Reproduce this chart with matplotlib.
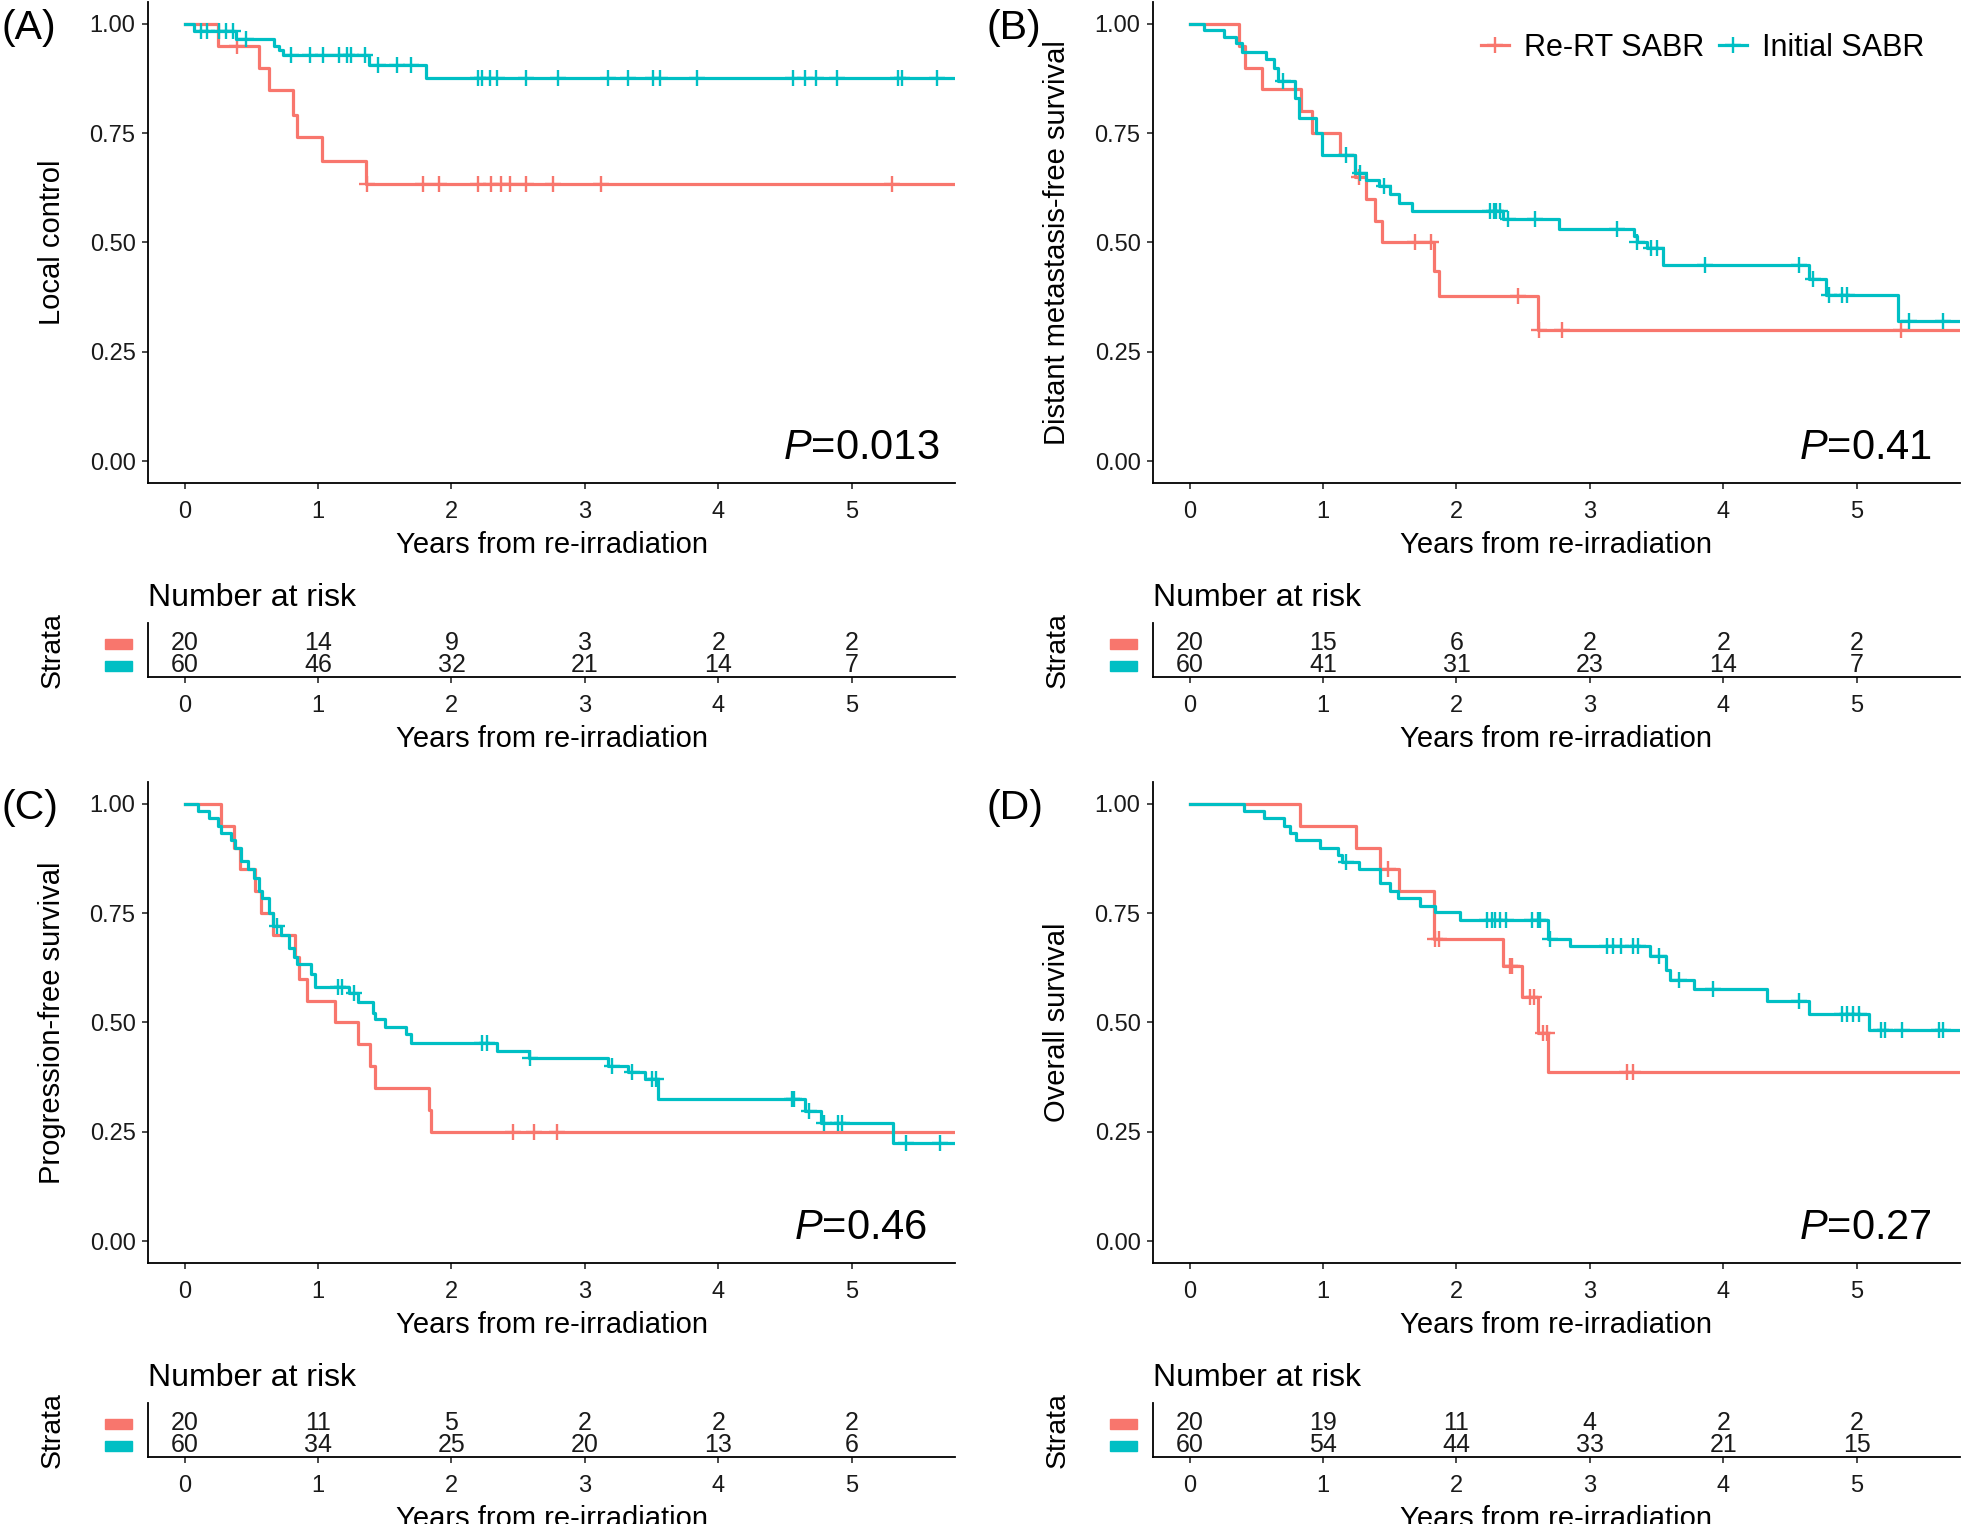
import numpy as np
import matplotlib
matplotlib.use("Agg")
import matplotlib.pyplot as plt
from matplotlib.lines import Line2D
from matplotlib.patches import Rectangle

plt.rcParams["font.family"] = ["Liberation Sans", "DejaVu Sans"]
plt.rcParams["mathtext.fontset"] = "custom"
plt.rcParams["mathtext.it"] = "Liberation Sans:italic"
plt.rcParams["mathtext.rm"] = "Liberation Sans"

RED = "#F8766D"
TEAL = "#00BFC4"
GROUPS = ["Re-RT SABR", "Initial SABR"]
YEARS = [0, 1, 2, 3, 4, 5]
XLABEL = "Years from re-irradiation"

# ── (A) local control ─────────────────────────────────────────────
A_re_t = [0.25, 0.555, 0.63, 0.81, 0.84, 1.03, 1.36]
A_re_s = [0.95, 0.90, 0.848, 0.792, 0.741, 0.687, 0.634]
A_re_c = [0.39, 1.37, 1.79, 1.91, 2.20, 2.30, 2.37, 2.44, 2.56, 2.76, 3.12, 5.30]
A_in_t = [0.067, 0.385, 0.67, 0.71, 0.74, 1.38, 1.81]
A_in_s = [0.983, 0.966, 0.949, 0.94, 0.929, 0.906, 0.876]
A_in_c = [0.12, 0.17, 0.26, 0.31, 0.36, 0.46, 0.80, 0.94, 1.04, 1.16, 1.22, 1.25,
          1.35, 1.45, 1.59, 1.70, 2.20, 2.23, 2.29, 2.34, 2.56, 2.80, 3.17, 3.32,
          3.51, 3.56, 3.84, 4.56, 4.65, 4.73, 4.89, 5.35, 5.38, 5.64]
A_risk_re = [20, 14, 9, 3, 2, 2]
A_risk_in = [60, 46, 32, 21, 14, 7]

# ── (B) distant metastasis-free survival ─────────────────────────
B_re_t = [0.373, 0.417, 0.544, 0.833, 0.92, 1.13, 1.24, 1.32, 1.39, 1.44, 1.83, 1.87, 2.61]
B_re_s = [0.95, 0.90, 0.85, 0.80, 0.75, 0.70, 0.65, 0.60, 0.55, 0.50, 0.435, 0.378, 0.30]
B_re_c = [1.27, 1.69, 1.81, 2.46, 2.62, 2.79, 5.33]
B_in_t = [0.107, 0.26, 0.35, 0.39, 0.575, 0.63, 0.66, 0.79, 0.82, 0.95, 0.99, 1.24, 1.32,
          1.42, 1.50, 1.57, 1.67, 2.35, 2.77, 3.33, 3.35, 3.43, 3.55, 4.64, 4.77, 5.31]
B_in_s = [0.986, 0.971, 0.956, 0.935, 0.92, 0.90, 0.87, 0.83, 0.785, 0.75, 0.70, 0.66, 0.644,
          0.629, 0.61, 0.59, 0.572, 0.553, 0.53, 0.515, 0.50, 0.488, 0.448, 0.416, 0.38, 0.321]
B_in_c = [0.70, 1.17, 1.28, 1.46, 2.25, 2.28, 2.30, 2.33, 2.39, 2.59, 3.20, 3.35, 3.46,
          3.50, 3.86, 4.57, 4.67, 4.79, 4.89, 4.93, 5.39, 5.65]
B_risk_re = [20, 15, 6, 2, 2, 2]
B_risk_in = [60, 41, 31, 23, 14, 7]

# ── (C) progression-free survival ────────────────────────────────
C_re_t = [0.275, 0.366, 0.414, 0.53, 0.57, 0.66, 0.83, 0.86, 0.92, 1.125, 1.30, 1.39, 1.43, 1.83, 1.85]
C_re_s = [0.95, 0.90, 0.85, 0.80, 0.75, 0.70, 0.65, 0.60, 0.55, 0.50, 0.45, 0.40, 0.35, 0.30, 0.25]
C_re_c = [2.46, 2.62, 2.79]
C_in_t = [0.10, 0.18, 0.25, 0.27, 0.35, 0.38, 0.425, 0.476, 0.523, 0.555, 0.58, 0.63, 0.66,
          0.72, 0.78, 0.82, 0.84, 0.95, 0.976, 1.23, 1.30, 1.41, 1.43, 1.50, 1.66, 1.70,
          2.34, 2.58, 3.17, 3.32, 3.45, 3.55, 4.65, 4.77, 5.31]
C_in_s = [0.983, 0.967, 0.95, 0.933, 0.917, 0.90, 0.87, 0.85, 0.83, 0.80, 0.785, 0.75, 0.72,
          0.70, 0.67, 0.65, 0.633, 0.61, 0.582, 0.568, 0.547, 0.522, 0.509, 0.49, 0.473, 0.454,
          0.435, 0.418, 0.40, 0.386, 0.37, 0.325, 0.298, 0.27, 0.224]
C_in_c = [0.69, 1.15, 1.18, 1.27, 2.23, 2.27, 2.59, 3.20, 3.35, 3.50, 3.53, 4.55, 4.57,
          4.68, 4.79, 4.90, 4.93, 5.41, 5.66]
C_risk_re = [20, 11, 5, 2, 2, 2]
C_risk_in = [60, 34, 25, 20, 13, 6]

# ── (D) overall survival ─────────────────────────────────────────
D_re_t = [0.83, 1.246, 1.43, 1.57, 1.83, 2.35, 2.49, 2.61, 2.69]
D_re_s = [0.95, 0.90, 0.85, 0.80, 0.69, 0.629, 0.559, 0.475, 0.386]
D_re_c = [1.49, 1.84, 1.87, 2.40, 2.42, 2.55, 2.58, 2.65, 2.68, 3.28, 3.32]
D_in_t = [0.41, 0.56, 0.71, 0.75, 0.80, 0.98, 1.11, 1.14, 1.27, 1.43, 1.50, 1.56, 1.73,
          1.84, 2.03, 2.69, 2.85, 3.45, 3.57, 3.60, 3.78, 4.33, 4.64, 5.09]
D_in_s = [0.983, 0.967, 0.95, 0.933, 0.917, 0.90, 0.883, 0.867, 0.85, 0.82, 0.80, 0.785, 0.767,
          0.752, 0.734, 0.691, 0.676, 0.652, 0.621, 0.598, 0.576, 0.549, 0.519, 0.483]
D_in_c = [1.17, 2.23, 2.27, 2.29, 2.33, 2.37, 2.57, 2.61, 2.63, 2.70, 3.13, 3.17, 3.23,
          3.32, 3.36, 3.52, 3.67, 3.92, 4.57, 4.89, 4.93, 4.97, 5.02, 5.18, 5.21, 5.34,
          5.62, 5.65]
D_risk_re = [20, 19, 11, 4, 2, 2]
D_risk_in = [60, 54, 44, 33, 21, 15]

# tag, y label, p value, curves, risk rows, panel left/top (px), tag x (px)
PANELS = [
    ("(A)", "Local control", "0.013", (A_re_t, A_re_s, A_re_c), (A_in_t, A_in_s, A_in_c),
     A_risk_re, A_risk_in, 148, 2, 2),
    ("(B)", "Distant metastasis-free survival", "0.41", (B_re_t, B_re_s, B_re_c),
     (B_in_t, B_in_s, B_in_c), B_risk_re, B_risk_in, 1153, 2, 986),
    ("(C)", "Progression-free survival", "0.46", (C_re_t, C_re_s, C_re_c),
     (C_in_t, C_in_s, C_in_c), C_risk_re, C_risk_in, 148, 782, 2),
    ("(D)", "Overall survival", "0.27", (D_re_t, D_re_s, D_re_c),
     (D_in_t, D_in_s, D_in_c), D_risk_re, D_risk_in, 1153, 782, 986),
]

W, H = 1969, 1524
fig = plt.figure(figsize=(W / 100, H / 100), dpi=100)


def px_axes(l, t, r, b):
    return fig.add_axes([l / W, 1 - b / H, (r - l) / W, (b - t) / H])


def surv_at(times, surv, x):
    idx = np.searchsorted(times, x, side="right")
    return np.concatenate([[1.0], surv])[idx]


def style(ax):
    for s in ("top", "right"):
        ax.spines[s].set_visible(False)
    for s in ("left", "bottom"):
        ax.spines[s].set_linewidth(1.3)
    ax.tick_params(axis="both", direction="out", length=4, width=1.1,
                   labelsize=17, colors="#1a1a1a")
    ax.tick_params(axis="x", pad=9)
    ax.set_xlim(-0.275, 5.775)
    ax.set_xticks(YEARS)


for tag, ylab, pval, red, teal, risk_re, risk_in, left, top, tag_x in PANELS:
    ax = px_axes(left, top, left + 807, top + 481)
    style(ax)
    ax.set_ylim(-0.05, 1.05)
    ax.set_yticks([0, 0.25, 0.5, 0.75, 1.0])
    ax.set_yticklabels(["%.2f" % v for v in [0, 0.25, 0.5, 0.75, 1.0]])
    ax.tick_params(axis="y", pad=5)

    for (t, s, c), col in [(red, RED), (teal, TEAL)]:
        x = [0.0] + list(t) + [6.5]
        y = [1.0] + list(s) + [s[-1]]
        ax.step(x, y, where="post", color=col, lw=2.3)
        ax.plot(c, surv_at(t, s, np.array(c)), ls="none", marker="+",
                color=col, markersize=11, mew=1.7)

    ax.text(5.07, 0.005, r"$\mathit{P}$=" + pval, ha="center", va="baseline",
            fontsize=30)
    ax.set_xlabel(XLABEL, fontsize=21, labelpad=6)
    ax.set_ylabel(ylab, fontsize=21)
    ax.yaxis.set_label_coords(-0.102, 0.5)

    fig.text(tag_x / W, 1 - (top + 26) / H, tag, ha="left", va="center", fontsize=29.5)

    if tag == "(B)":
        handles = [Line2D([], [], color=RED, lw=2.3, marker="+", markersize=11, mew=1.7),
                   Line2D([], [], color=TEAL, lw=2.3, marker="+", markersize=11, mew=1.7)]
        ax.legend(handles, GROUPS, loc="center right", bbox_to_anchor=(0.975, 0.905),
                  ncol=2, frameon=False, fontsize=22, handlelength=0.9,
                  handletextpad=0.5, columnspacing=0.5, borderpad=0)

    # risk table
    rt = px_axes(left, top + 621, left + 807, top + 675)
    style(rt)
    rt.set_ylim(0.455, 2.91)
    rt.set_yticks([])
    for row, counts in [(2, risk_re), (1, risk_in)]:
        for yr, n in zip(YEARS, counts):
            rt.text(yr, row, str(n), ha="center", va="center", fontsize=18,
                    color="#1a1a1a")
    for row, col in [(2, RED), (1, TEAL)]:
        rt.add_patch(Rectangle((-0.053, row - 0.25), 0.033, 0.41, color=col,
                               transform=rt.get_yaxis_transform(), clip_on=False))
    rt.set_title("Number at risk", loc="left", fontsize=23, pad=12)
    rt.set_xlabel(XLABEL, fontsize=21, labelpad=6)
    rt.set_ylabel("Strata", fontsize=20.5)
    rt.yaxis.set_label_coords(-0.102, 0.5)

fig.savefig("out.png", dpi=100)
